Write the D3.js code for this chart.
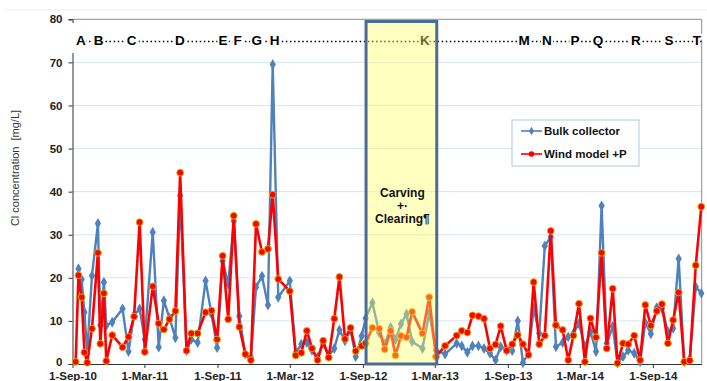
<!DOCTYPE html>
<html>
<head>
<meta charset="utf-8">
<script src="https://cdn.jsdelivr.net/npm/d3@7"></script>
<style>
  body { margin: 0; background: #fff; }
  svg { display: block; font-family: "Liberation Sans", Arial, sans-serif; }
</style>
</head>
<body>
<svg id="chart" width="707" height="381"></svg>
<script>
// Sampling dates and chloride values [mg/L]
const dates = [
  "2010-09-09","2010-09-16","2010-09-24","2010-10-01","2010-10-08","2010-10-20","2010-11-04","2010-11-10","2010-11-19","2010-11-25",
  "2010-12-10","2011-01-05","2011-01-20","2011-02-03","2011-02-17","2011-03-02","2011-03-22","2011-04-06","2011-04-19","2011-05-03",
  "2011-05-18","2011-05-30","2011-06-15","2011-06-27","2011-07-13","2011-08-02","2011-08-17","2011-08-31","2011-09-14","2011-09-28",
  "2011-10-12","2011-10-26","2011-11-10","2011-11-24","2011-12-07","2011-12-22","2012-01-06","2012-01-18","2012-02-01","2012-03-01",
  "2012-03-16","2012-03-30","2012-04-13","2012-04-26","2012-05-10","2012-05-24","2012-06-07","2012-06-21","2012-07-04","2012-07-18",
  "2012-08-01","2012-08-14","2012-08-29","2012-09-08","2012-09-25","2012-10-12","2012-10-26","2012-11-10","2012-11-22","2012-12-06",
  "2012-12-20","2013-01-03","2013-01-29","2013-02-15","2013-03-04","2013-03-27","2013-04-25","2013-05-08","2013-05-22","2013-06-04",
  "2013-06-19","2013-07-03","2013-07-18","2013-08-01","2013-08-14","2013-08-29","2013-09-12","2013-09-26","2013-10-09","2013-10-23",
  "2013-11-05","2013-11-19","2013-12-03","2013-12-18","2013-12-31","2014-01-17","2014-01-31","2014-02-13","2014-02-27","2014-03-14",
  "2014-03-28","2014-04-11","2014-04-25","2014-05-08","2014-05-23","2014-06-04","2014-06-18","2014-07-01","2014-07-16","2014-07-31",
  "2014-08-13","2014-08-27","2014-09-11","2014-09-24","2014-10-09","2014-10-22","2014-11-05","2014-11-19","2014-12-03","2014-12-18",
  "2015-01-01"
];

const bulkCollector = [
  null,22.1,19.6,12.0,2.5,20.5,32.6,9.0,19.0,8.9,
  9.7,12.8,2.9,11.4,12.8,5.7,30.6,3.9,14.7,10.7,
  6.1,39.1,3.1,5.7,5.0,19.3,11.6,3.8,23.9,18.5,
  33.2,11.1,2.3,1.5,17.8,20.4,13.7,69.5,15.5,19.3,
  2.6,4.6,5.0,3.2,1.5,4.8,2.0,3.6,7.9,5.4,
  7.9,1.7,6.5,10.6,14.2,7.3,4.6,8.5,5.6,9.3,
  11.6,5.2,3.6,11.8,3.2,2.3,4.8,4.2,2.7,4.2,
  4.2,3.6,2.5,0.9,4.0,3.1,3.1,10.0,0.3,2.5,
  12.9,7.1,27.4,29.5,4.0,5.0,6.3,7.1,9.4,4.0,
  7.5,2.9,36.7,4.8,8.7,0.2,1.7,3.2,2.5,0.5,
  9.6,7.0,13.1,12.9,7.5,8.3,24.4,0.5,1.2,17.9,
  16.4
];

const windModel = [
  0.5,20.6,15.5,2.7,0.3,8.2,25.8,4.7,16.4,0.7,
  6.7,3.9,6.3,11.0,32.9,2.8,18.0,9.4,8.0,10.4,
  12.3,44.4,3.1,7.1,7.1,12.0,12.4,5.7,25.1,10.4,
  34.4,8.6,2.3,0.9,32.5,26.0,26.7,39.3,19.7,16.9,
  2.0,2.6,7.7,3.6,0.9,5.4,1.5,10.5,20.2,5.8,
  8.4,3.0,4.2,4.8,8.4,8.2,3.4,7.7,2.0,6.5,
  6.2,12.1,7.1,15.5,1.7,4.2,6.6,7.7,7.3,11.3,
  11.1,10.5,3.6,4.5,8.8,3.1,4.6,6.7,4.6,2.1,
  19.0,4.6,6.6,30.9,9.0,7.9,0.9,6.6,14.0,0.5,
  10.6,6.2,25.8,3.6,17.5,0.2,4.8,4.6,6.6,0.9,
  13.7,8.9,12.3,13.9,4.8,10.2,16.6,0.5,0.8,22.9,
  36.5
];

// Event letters along the top
const eventLetters = ["A","B","C","D","E","F","G","H","K","M","N","P","Q","R","S","T"];
const eventDates = [
  "2010-09-22","2010-11-06","2011-01-28","2011-05-29","2011-09-15","2011-10-22","2011-12-09","2012-01-23",
  "2013-02-04","2013-10-12","2013-12-08","2014-02-17","2014-04-16","2014-07-20","2014-10-12","2014-12-21"
];

const tickDates = ["2010-09-01","2011-03-01","2011-09-01","2012-03-01","2012-09-01","2013-03-01","2013-09-01","2014-03-01","2014-09-01"];
const tickLabels = ["1-Sep-10","1-Mar-11","1-Sep-11","1-Mar-12","1-Sep-12","1-Mar-13","1-Sep-13","1-Mar-14","1-Sep-14"];
const yTicks = [0, 10, 20, 30, 40, 50, 60, 70, 80];

// Carving + clearing period
const periodStart = "2012-09-09";
const periodEnd = "2013-03-06";

const parse = d3.timeParse("%Y-%m-%d");
const svg = d3.select("#chart");

const plot = { left: 72.5, right: 701.7, top: 19.3, bottom: 364 };

const x = d3.scaleTime()
  .domain([parse("2010-09-01"), parse("2015-01-02")])
  .range([plot.left, plot.right]);

const y = d3.scaleLinear()
  .domain([0, 80])
  .range([plot.bottom, plot.top]);

// faint separator at the very top
svg.append("line")
  .attr("x1", 5).attr("x2", 707).attr("y1", 10).attr("y2", 10)
  .attr("stroke", "#eeeeee").attr("stroke-width", 1);

// gridlines
svg.append("g")
  .selectAll("line")
  .data(yTicks.filter(v => v > 0 && v < 80))
  .enter().append("line")
  .attr("x1", plot.left).attr("x2", plot.right)
  .attr("y1", d => y(d)).attr("y2", d => y(d))
  .attr("stroke", "#d3e6f2").attr("stroke-width", 1);

// top and right border
svg.append("path")
  .attr("d", `M${plot.left},${plot.top}H${plot.right}V${plot.bottom}`)
  .attr("fill", "none").attr("stroke", "#8c8c8c").attr("stroke-width", 1);

// y axis
const yAxis = svg.append("g")
  .attr("transform", `translate(${plot.left},0)`)
  .call(d3.axisLeft(y).tickValues(yTicks).tickSize(4).tickPadding(6));
yAxis.select(".domain").attr("stroke", "#333");
yAxis.selectAll(".tick line").attr("stroke", "#333");
yAxis.selectAll("text")
  .attr("font-size", 11.5).attr("font-weight", "bold").attr("fill", "#222")
  .attr("font-family", "Liberation Sans, Arial, sans-serif");
// the zero label sits a little higher so it clears the date labels
yAxis.selectAll(".tick text").filter(d => d === 0).attr("dy", "0.1em");

// x axis
const xAxis = svg.append("g")
  .attr("transform", `translate(0,${plot.bottom})`)
  .call(d3.axisBottom(x)
    .tickValues(tickDates.map(parse))
    .tickFormat((d, i) => tickLabels[i])
    .tickSize(4).tickPadding(3.5)
    .tickSizeOuter(0));
xAxis.select(".domain").attr("stroke", "#333");
xAxis.selectAll(".tick line").attr("stroke", "#333");
xAxis.selectAll("text")
  .attr("font-size", 11.5).attr("font-weight", "bold").attr("fill", "#222")
  .attr("font-family", "Liberation Sans, Arial, sans-serif");

// white band behind the event letters
svg.append("rect")
  .attr("x", plot.left - 3).attr("y", 23)
  .attr("width", plot.right - plot.left + 2).attr("height", 30)
  .attr("fill", "#fff");

// y axis title
svg.append("text")
  .attr("transform", "translate(19,168) rotate(-90)")
  .attr("text-anchor", "middle")
  .attr("font-size", 11).attr("fill", "#333")
  .attr("xml:space", "preserve")
  .text("Cl concentration  [mg/L]");

// event letters with dotted leaders
const letterY = 45;
svg.append("line")
  .attr("x1", x(parse(eventDates[0]))).attr("x2", plot.right)
  .attr("y1", letterY - 3.5).attr("y2", letterY - 3.5)
  .attr("stroke", "#000").attr("stroke-width", 1.6)
  .attr("stroke-dasharray", "1.5,2.6");

svg.append("g")
  .selectAll("text")
  .data(eventLetters)
  .enter().append("text")
  .attr("x", (d, i) => x(parse(eventDates[i])))
  .attr("y", letterY)
  .attr("text-anchor", "middle")
  .attr("font-size", 13.5).attr("font-weight", "bold")
  .attr("fill", "#000")
  .attr("stroke", "#fff").attr("stroke-width", 4).attr("paint-order", "stroke")
  .text(d => d);

// series
const rows = dates.map((d, i) => ({ date: parse(d), bulk: bulkCollector[i], wind: windModel[i] }));

const blueColor = "#4f81bd";
const redColor = "#ff0000";

const bulkRows = rows.filter(r => r.bulk != null);
const windRows = rows.filter(r => r.wind != null);

svg.append("path")
  .datum(bulkRows)
  .attr("fill", "none").attr("stroke", blueColor).attr("stroke-width", 2.4)
  .attr("stroke-linejoin", "round")
  .attr("d", d3.line().x(d => x(d.date)).y(d => y(d.bulk)));

svg.append("g")
  .selectAll("path")
  .data(bulkRows)
  .enter().append("path")
  .attr("transform", d => `translate(${x(d.date)},${y(d.bulk)})`)
  .attr("d", d3.symbol().type(d3.symbolDiamond).size(34))
  .attr("fill", blueColor);

svg.append("path")
  .datum(windRows)
  .attr("fill", "none").attr("stroke", redColor).attr("stroke-width", 2.6)
  .attr("stroke-linejoin", "round")
  .attr("d", d3.line().x(d => x(d.date)).y(d => y(d.wind)));

svg.append("g")
  .selectAll("circle")
  .data(windRows)
  .enter().append("circle")
  .attr("cx", d => x(d.date)).attr("cy", d => y(d.wind))
  .attr("r", 3.4)
  .attr("fill", redColor).attr("stroke", "#d6b000").attr("stroke-width", 1);

// carving + clearing period overlay
const bx0 = x(parse(periodStart)), bx1 = x(parse(periodEnd));
svg.append("rect")
  .attr("x", bx0).attr("y", 21.5)
  .attr("width", bx1 - bx0).attr("height", plot.bottom - 21.5)
  .attr("fill", "#ffff60").attr("fill-opacity", 0.4);
svg.append("rect")
  .attr("x", bx0).attr("y", 21.5)
  .attr("width", bx1 - bx0).attr("height", plot.bottom - 21.5)
  .attr("fill", "none").attr("stroke", "#4a6c9b").attr("stroke-width", 3);

const boxText = svg.append("text")
  .attr("text-anchor", "middle")
  .attr("font-size", 12).attr("font-weight", "bold").attr("fill", "#111");
["Carving", "+·", "Clearing¶"].forEach((t, i) => {
  boxText.append("tspan")
    .attr("x", (bx0 + bx1) / 2 + 1)
    .attr("y", 197 + i * 13)
    .text(t);
});

// legend
const legend = svg.append("g").attr("transform", "translate(512,120)");
legend.append("rect")
  .attr("width", 127).attr("height", 46)
  .attr("fill", "#fff").attr("stroke", "#a9c9e6").attr("stroke-width", 1);

const legendItems = [
  { label: "Bulk collector", color: blueColor, mark: "diamond" },
  { label: "Wind model +P", color: redColor, mark: "circle" }
];
legendItems.forEach((item, i) => {
  const g = legend.append("g").attr("transform", `translate(0,${11 + i * 23})`);
  g.append("line")
    .attr("x1", 9).attr("x2", 30).attr("y1", 0).attr("y2", 0)
    .attr("stroke", item.color).attr("stroke-width", 1.6);
  if (item.mark === "diamond") {
    g.append("path")
      .attr("transform", "translate(19.5,0)")
      .attr("d", d3.symbol().type(d3.symbolDiamond).size(22))
      .attr("fill", item.color);
  } else {
    g.append("circle")
      .attr("cx", 19.5).attr("cy", 0).attr("r", 2.8)
      .attr("fill", item.color);
  }
  g.append("text")
    .attr("x", 32).attr("y", 4)
    .attr("font-size", 11.5).attr("font-weight", "bold").attr("fill", "#111")
    .text(item.label);
});
</script>
</body>
</html>
